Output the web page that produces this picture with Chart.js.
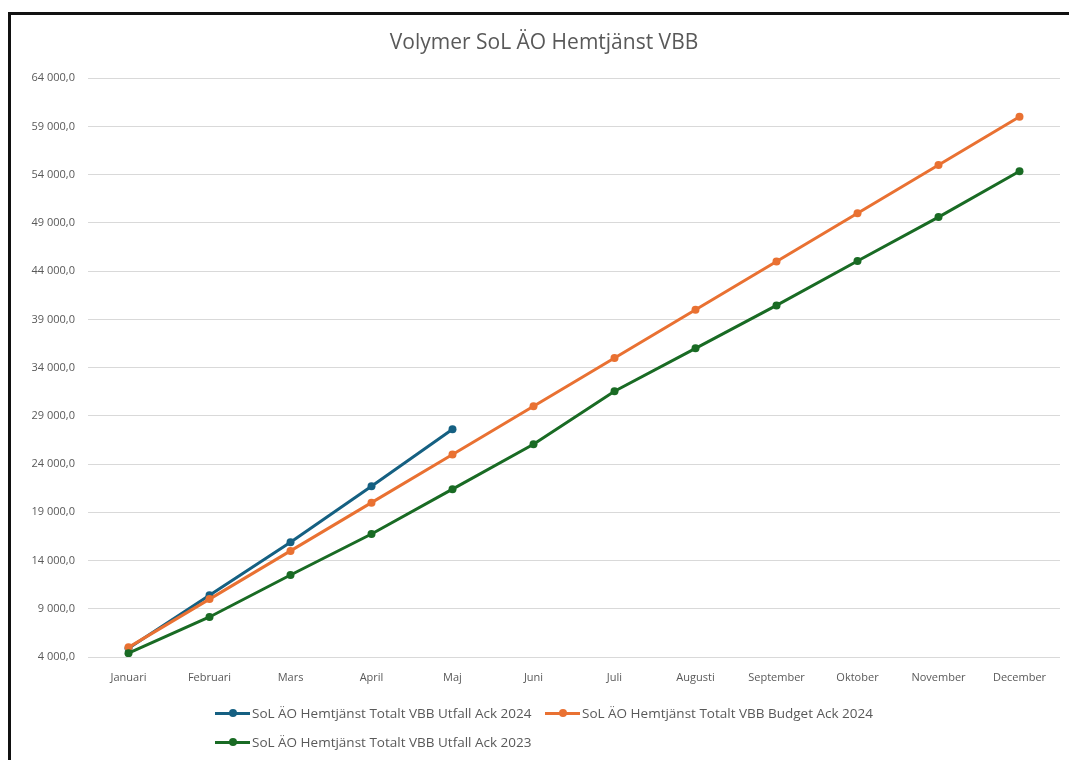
<!DOCTYPE html>
<html>
<head>
<meta charset="utf-8">
<script src="https://cdn.jsdelivr.net/npm/chart.js@4"></script>
<style>
  html, body { margin: 0; padding: 0; background: #fff; overflow: hidden; }
  #wrap { position: relative; width: 1069px; height: 760px; overflow: hidden; }
  #chart { position: absolute; left: 0; top: 0; }
  .leg {
    position: absolute; font-family: "Open Sans", sans-serif; font-size: 13.5px;
    color: #595959; white-space: nowrap; display: flex; align-items: center; height: 16px;
  }
  .mark { position: relative; width: 35px; height: 16px; margin-right: 2px; }
  .mark .ln { position: absolute; left: 0; right: 0; top: 6.5px; height: 3px; }
  .mark .dt { position: absolute; left: 13.5px; top: 4px; width: 8px; height: 8px; border-radius: 50%; }
</style>
</head>
<body>
<div id="wrap">
  <canvas id="chart" width="1069" height="760"></canvas>
</div>
<script>
const months = ["Januari","Februari","Mars","April","Maj","Juni","Juli","Augusti","September","Oktober","November","December"];
const utfall2024 = [4900, 10400, 15900, 21700, 27600];
const budget2024 = [5000, 10000, 15000, 20000, 25000, 30000, 35000, 40000, 45000, 50000, 55000, 60000];
const utfall2023 = [4400, 8150, 12500, 16750, 21400, 26050, 31550, 36000, 40450, 45050, 49600, 54350];
const seriesNames = [
  "SoL ÄO Hemtjänst Totalt VBB Utfall Ack 2024",
  "SoL ÄO Hemtjänst Totalt VBB Budget Ack 2024",
  "SoL ÄO Hemtjänst Totalt VBB Utfall Ack 2023"
];
const yMin = 4000, yMax = 64000, yStep = 5000;

const textColor = "#595959";
const font = "'Open Sans', sans-serif";

function line(label, data, color, order) {
  return {
    label, data, order,
    borderColor: color, backgroundColor: color,
    borderWidth: 3, pointRadius: 4, pointBorderWidth: 0,
    tension: 0
  };
}

// dark frame on the left and top edges, like the cropped Excel chart box
const framePlugin = {
  id: "frame",
  beforeDraw(c) {
    const ctx = c.ctx;
    ctx.save();
    ctx.strokeStyle = "#111";
    ctx.lineWidth = 3;
    ctx.beginPath();
    ctx.moveTo(9.5, c.height);
    ctx.lineTo(9.5, 13.5);
    ctx.lineTo(c.width, 13.5);
    ctx.stroke();
    ctx.restore();
  }
};

const chart = new Chart(document.getElementById("chart"), {
  type: "line",
  data: {
    labels: months,
    datasets: [
      line(seriesNames[0], utfall2024, "#156082", 3),
      line(seriesNames[1], budget2024, "#E97132", 2),
      line(seriesNames[2], utfall2023, "#196B24", 1)
    ]
  },
  options: {
    responsive: false,
    animation: false,
    layout: { padding: { left: 28, right: 9, top: 0, bottom: 73 } },
    plugins: {
      legend: { display: false },
      tooltip: { enabled: false },
      title: {
        display: true,
        text: "Volymer SoL ÄO Hemtjänst VBB",
        color: textColor,
        font: { family: font, size: 21, weight: "normal", lineHeight: 1.2 },
        padding: { top: 30, bottom: 23 }
      }
    },
    scales: {
      x: {
        offset: true,
        grid: { display: false, drawTicks: false },
        border: { display: false },
        ticks: { color: textColor, font: { family: font, size: 11 }, padding: 14, maxRotation: 0 },
        afterFit: s => { s.height = 30; }
      },
      y: {
        min: yMin, max: yMax,
        grid: { color: "#d9d9d9", lineWidth: 1, drawTicks: false },
        border: { display: false },
        ticks: {
          stepSize: yStep, color: textColor, font: { family: font, size: 11 }, padding: 13,
          callback: v => v.toLocaleString("sv-SE", { minimumFractionDigits: 1, maximumFractionDigits: 1 })
        },
        afterFit: s => { s.width = 60; }
      }
    }
  },
  plugins: [framePlugin]
});

// Excel-style legend: rows left-aligned inside a centred block
const legendSpots = [[215, 705], [545, 705], [215, 734]];
chart.data.datasets.forEach((ds, i) => {
  const el = document.createElement("div");
  el.className = "leg";
  el.style.left = legendSpots[i][0] + "px";
  el.style.top = legendSpots[i][1] + "px";
  el.innerHTML = `<span class="mark"><span class="ln" style="background:${ds.borderColor}"></span>` +
    `<span class="dt" style="background:${ds.borderColor}"></span></span><span>${ds.label}</span>`;
  document.getElementById("wrap").appendChild(el);
});
</script>
</body>
</html>
